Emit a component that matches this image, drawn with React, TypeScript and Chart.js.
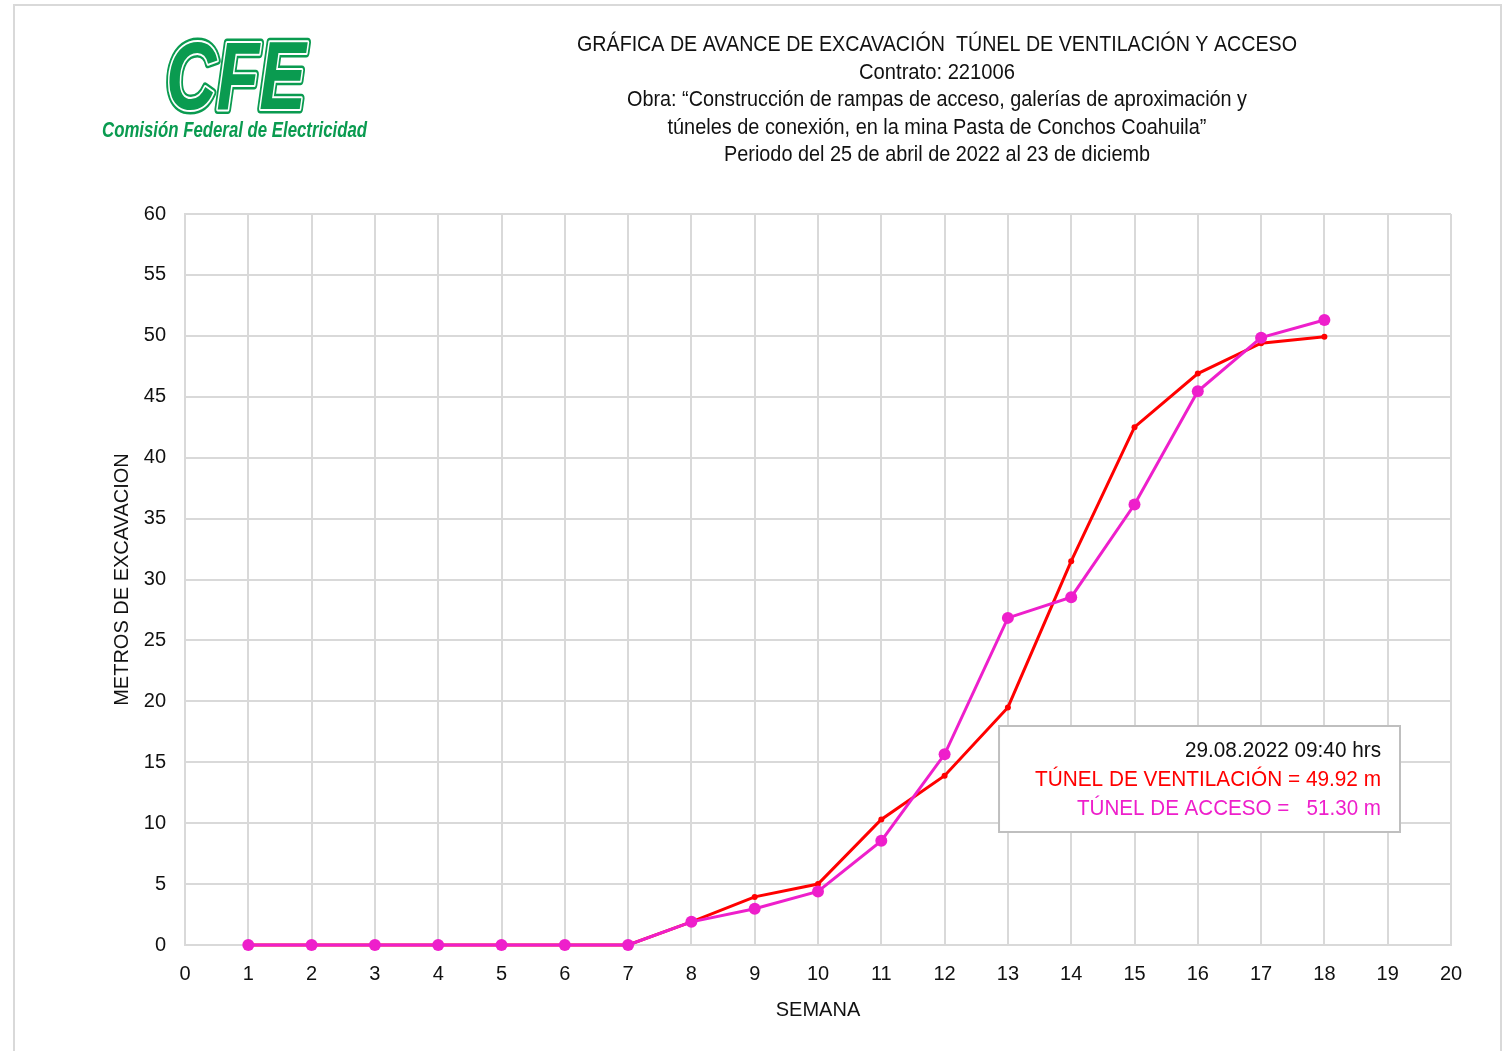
import React, { useEffect, useRef } from "react";
import { Chart, registerables } from "chart.js";

Chart.register(...registerables);

const weeks = [1, 2, 3, 4, 5, 6, 7, 8, 9, 10, 11, 12, 13, 14, 15, 16, 17, 18];
const ventilacion = [0, 0, 0, 0, 0, 0, 0, 1.9, 3.95, 5.0, 10.3, 13.9, 19.5, 31.5, 42.5, 46.9, 49.4, 49.92];
const acceso = [0, 0, 0, 0, 0, 0, 0, 1.9, 2.98, 4.4, 8.55, 15.65, 26.85, 28.55, 36.15, 45.45, 49.85, 51.3];

const titleLines = [
  "GRÁFICA DE AVANCE DE EXCAVACIÓN  TÚNEL DE VENTILACIÓN Y ACCESO",
  "Contrato: 221006",
  "Obra: “Construcción de rampas de acceso, galerías de aproximación y",
  "túneles de conexión, en la mina Pasta de Conchos Coahuila”",
  "Periodo del 25 de abril de 2022 al 23 de diciemb",
];
const titleWidths = [720, 156, 620, 539, 426];

const noteLines = [
  "29.08.2022 09:40 hrs",
  "TÚNEL DE VENTILACIÓN = 49.92 m",
  "TÚNEL DE ACCESO =   51.30 m",
];
const noteWidths = [196, 346, 304];

const RED = "#FF0000";
const MAGENTA = "#EE1FCB";
const GREEN = "#0A9B50";
const GRID = "#d9d9d9";
const NARROW = '"Liberation Sans Narrow", "Liberation Sans", Arial, sans-serif';
const SANS = '"Liberation Sans", Arial, sans-serif';

function fitText(
  ctx: CanvasRenderingContext2D,
  text: string,
  x: number,
  y: number,
  width: number,
  font: string,
  color: string,
  align: CanvasTextAlign
) {
  ctx.save();
  ctx.font = font;
  const w = ctx.measureText(text).width;
  const sx = width / w;
  ctx.translate(x, y);
  ctx.scale(sx, 1);
  ctx.textAlign = align;
  ctx.textBaseline = "middle";
  ctx.fillStyle = color;
  ctx.fillText(text, 0, 0);
  ctx.restore();
}

const decorPlugin = {
  id: "decor",
  beforeDraw(chart: any) {
    const ctx: CanvasRenderingContext2D = chart.ctx;
    ctx.save();
    ctx.fillStyle = "#ffffff";
    ctx.fillRect(0, 0, chart.width, chart.height);
    // frame
    ctx.strokeStyle = GRID;
    ctx.lineWidth = 2;
    ctx.beginPath();
    ctx.moveTo(14, 1051);
    ctx.lineTo(14, 5);
    ctx.lineTo(1501, 5);
    ctx.lineTo(1501, 1051);
    ctx.stroke();

    // logo "CFE"
    ctx.save();
    ctx.font = `italic bold 96px ${SANS}`;
    const cw = ctx.measureText("CFE").width;
    const sx = 140 / cw;
    ctx.translate(166, 83);
    ctx.scale(sx, 1);
    ctx.textAlign = "left";
    ctx.textBaseline = "middle";
    ctx.lineJoin = "round";
    ctx.strokeStyle = GREEN;
    ctx.lineWidth = 9;
    ctx.strokeText("CFE", 0, 0);
    ctx.strokeStyle = "#ffffff";
    ctx.lineWidth = 4;
    ctx.strokeText("CFE", 0, 0);
    ctx.fillStyle = GREEN;
    ctx.fillText("CFE", 0, 0);
    ctx.restore();

    fitText(ctx, "Comisión Federal de Electricidad", 102, 131, 265, `italic bold 22px ${NARROW}`, GREEN, "left");

    // title
    titleLines.forEach((t, i) => {
      fitText(ctx, t, 937, 45 + i * 27.5, titleWidths[i], `22px ${NARROW}`, "#111111", "center");
    });
    ctx.restore();
  },
  afterDraw(chart: any) {
    const ctx: CanvasRenderingContext2D = chart.ctx;
    const xs = chart.scales.x;
    const ys = chart.scales.y;
    const left = xs.getPixelForValue(12.86);
    const right = xs.getPixelForValue(20) - 51;
    const top = ys.getPixelForValue(60) + 512;
    const bottom = top + 106;
    ctx.save();
    ctx.fillStyle = "#ffffff";
    ctx.fillRect(left, top, right - left, bottom - top);
    ctx.strokeStyle = "#bfbfbf";
    ctx.lineWidth = 2;
    ctx.strokeRect(left, top, right - left, bottom - top);
    const colors = ["#111111", RED, MAGENTA];
    noteLines.forEach((t, i) => {
      fitText(ctx, t, right - 19, top + 25 + i * 29, noteWidths[i], `22px ${NARROW}`, colors[i], "right");
    });
    ctx.restore();
  },
};

export default function App() {
  const ref = useRef<HTMLCanvasElement>(null);
  useEffect(() => {
    document.body.style.margin = "0";
    const chart = new Chart(ref.current as HTMLCanvasElement, {
      type: "line",
      data: {
        datasets: [
          {
            label: "TÚNEL DE ACCESO",
            data: weeks.map((w, i) => ({ x: w, y: acceso[i] })),
            borderColor: MAGENTA,
            backgroundColor: MAGENTA,
            borderWidth: 3,
            pointRadius: 6,
            pointBorderWidth: 0,
            pointBackgroundColor: MAGENTA,
            clip: false,
          },
          {
            label: "TÚNEL DE VENTILACIÓN",
            data: weeks.map((w, i) => ({ x: w, y: ventilacion[i] })),
            borderColor: RED,
            backgroundColor: RED,
            borderWidth: 3,
            pointRadius: 3,
            pointBorderWidth: 0,
            pointBackgroundColor: RED,
            clip: false,
          },
        ],
      },
      options: {
        animation: false,
        responsive: false,
        maintainAspectRatio: false,
        layout: { padding: { top: 214, right: 58, left: 0, bottom: 0 } },
        plugins: {
          legend: { display: false },
          tooltip: { enabled: false },
          title: { display: false },
        },
        scales: {
          x: {
            type: "linear",
            min: 0,
            max: 20,
            ticks: { stepSize: 1, padding: 17, color: "#111111", font: { family: SANS, size: 20 } },
            grid: { color: GRID, lineWidth: 2, drawTicks: false },
            border: { color: GRID, width: 2 },
            title: {
              display: true,
              text: "SEMANA",
              color: "#111111",
              font: { family: SANS, size: 20 },
              padding: { top: 0, bottom: 29 },
            },
            afterFit: (s: any) => {
              s.height = 106;
            },
          },
          y: {
            min: 0,
            max: 60,
            ticks: { stepSize: 5, padding: 19, color: "#111111", font: { family: SANS, size: 20 } },
            grid: { color: GRID, lineWidth: 2, drawTicks: false },
            border: { color: GRID, width: 2 },
            title: {
              display: true,
              text: "METROS DE EXCAVACION",
              color: "#111111",
              font: { family: SANS, size: 20 },
              padding: { top: 110, bottom: 0 },
            },
            afterFit: (s: any) => {
              s.width = 185;
            },
          },
        },
      },
      plugins: [decorPlugin],
    });
    return () => chart.destroy();
  }, []);
  return (
    <div style={{ position: "fixed", left: 0, top: 0, width: 1509, height: 1051 }}>
      <canvas ref={ref} width={1509} height={1051} style={{ width: 1509, height: 1051, display: "block" }} />
    </div>
  );
}
